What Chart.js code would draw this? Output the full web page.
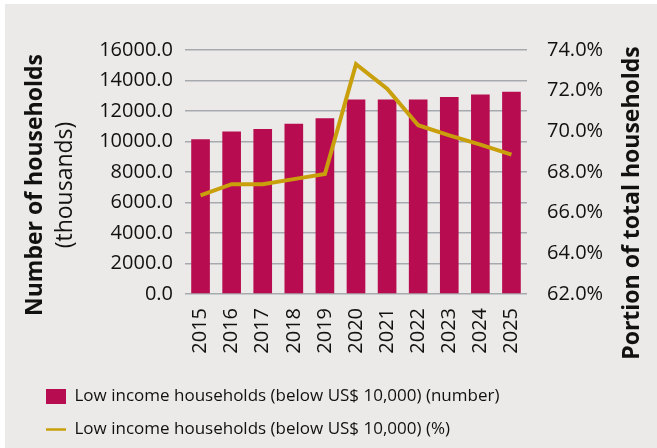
<!DOCTYPE html>
<html>
<head>
<meta charset="utf-8">
<script src="https://cdn.jsdelivr.net/npm/chart.js@4.4.1/dist/chart.umd.min.js"></script>
<style>
  html, body { margin: 0; padding: 0; background: #ffffff; }
  #wrap { width: 657px; height: 448px; }
</style>
</head>
<body>
<div id="wrap"><canvas id="myChart" width="657" height="448"></canvas></div>
<script>
// datos
var years = ['2015', '2016', '2017', '2018', '2019', '2020', '2021', '2022', '2023', '2024', '2025'];
var households = [10150, 10650, 10820, 11170, 11520, 12750, 12750, 12750, 12920, 13090, 13260];
var portion = [66.85, 67.4, 67.4, 67.65, 67.9, 73.3, 72.1, 70.3, 69.8, 69.35, 68.85];

var barLabel = 'Low income households (below US$ 10,000) (number)';
var lineLabel = 'Low income households (below US$ 10,000) (%)';

var tickFont = { family: 'Open Sans', size: 20 };
var gridColor = '#a6a9ad';

// fondo gris y titulos de los ejes
var decor = {
    id: 'decor',
    beforeDraw: function (chart) {
        var c = chart.ctx;
        c.save();
        c.fillStyle = '#ebeae8';
        c.fillRect(5, 4, chart.width - 5, chart.height - 4);
        c.restore();
    },
    afterDraw: function (chart) {
        var c = chart.ctx;
        var a = chart.chartArea;
        c.save();
        c.fillStyle = '#111111';
        c.textAlign = 'center';
        c.textBaseline = 'middle';
        // izquierda
        c.save();
        c.translate(a.left - 150, a.top + 135);
        c.rotate(-Math.PI / 2);
        c.font = 'bold 23px "Open Sans"';
        c.fillText('Number of households', 0, 0);
        c.restore();
        c.save();
        c.translate(a.left - 120, a.top + 135);
        c.rotate(-Math.PI / 2);
        c.font = '23px "Open Sans"';
        c.fillText('(thousands)', 0, 0);
        c.restore();
        // derecha
        c.save();
        c.translate(a.right + 105, a.top + 153);
        c.rotate(-Math.PI / 2);
        c.font = 'bold 23px "Open Sans"';
        c.fillText('Portion of total households', 0, 0);
        c.restore();
        c.restore();
    }
};

var ctx = document.getElementById('myChart').getContext('2d');
var myChart = new Chart(ctx, {
    type: 'bar',
    data: {
        labels: years,
        datasets: [{
            type: 'line',
            label: lineLabel,
            data: portion,
            yAxisID: 'y1',
            borderColor: '#c9a00b',
            backgroundColor: '#c9a00b',
            borderWidth: 4,
            pointRadius: 0,
            pointStyle: 'line',
            tension: 0,
            order: 0
        }, {
            label: barLabel,
            data: households,
            yAxisID: 'y',
            backgroundColor: '#b70c4f',
            borderWidth: 0,
            pointStyle: 'rect',
            categoryPercentage: 1.0,
            barPercentage: 0.6,
            order: 1
        }]
    },
    options: {
        responsive: false,
        animation: false,
        layout: { padding: { left: 30, top: 50, right: 0, bottom: 0 } },
        plugins: {
            tooltip: { enabled: false },
            legend: {
                position: 'bottom',
                align: 'start',
                reverse: true,
                labels: {
                    color: '#111111',
                    font: { family: 'Open Sans', size: 17 },
                    usePointStyle: true,
                    pointStyleWidth: 20,
                    boxHeight: 15,
                    padding: 16,
                    generateLabels: function (chart) {
                        var items = Chart.defaults.plugins.legend.labels.generateLabels(chart);
                        items.forEach(function (it) {
                            if (it.pointStyle === 'line') it.lineWidth = 2.5;
                        });
                        return items;
                    }
                }
            }
        },
        scales: {
            x: {
                grid: { display: false, drawTicks: false },
                border: { display: false },
                ticks: {
                    color: '#111111',
                    font: tickFont,
                    maxRotation: 90,
                    minRotation: 90,
                    padding: 14
                },
                afterFit: function (scale) { scale.height = 78; }
            },
            y: {
                position: 'left',
                min: 0,
                max: 16000,
                grid: { color: gridColor, lineWidth: 1.5, drawTicks: false },
                border: { display: false },
                ticks: {
                    stepSize: 2000,
                    color: '#111111',
                    font: tickFont,
                    padding: 12,
                    callback: function (v) { return v.toFixed(1); }
                },
                afterFit: function (scale) { scale.width = 155; }
            },
            y1: {
                position: 'right',
                min: 62,
                max: 74,
                grid: { drawOnChartArea: false, drawTicks: false },
                border: { display: false },
                ticks: {
                    stepSize: 2,
                    color: '#111111',
                    font: tickFont,
                    padding: 20,
                    callback: function (v) { return v.toFixed(1) + '%'; }
                },
                afterFit: function (scale) { scale.width = 130; }
            }
        }
    },
    plugins: [decor]
});
</script>
</body>
</html>
